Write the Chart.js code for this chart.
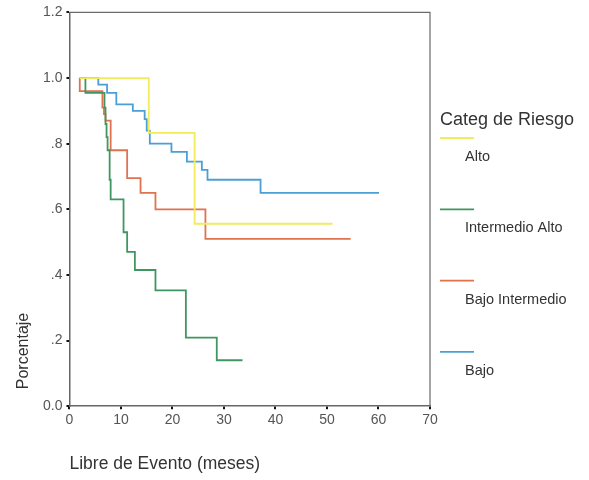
<!DOCTYPE html>
<html>
<head>
<meta charset="utf-8">
<script src="https://cdn.jsdelivr.net/npm/chart.js@4"></script>
<style>
  body { margin: 0; background: #fff; }
  #wrap { width: 589px; height: 480px; }
</style>
</head>
<body>
<div id="wrap"><canvas id="km" width="589" height="480"></canvas></div>
<script>
// Curvas de supervivencia libre de evento por categoria de riesgo
const categorias = ['Alto', 'Intermedio Alto', 'Bajo Intermedio', 'Bajo'];
const colores = ['#f0ec5c', '#3f9660', '#e0724f', '#4a9fd6'];

const tAlto = [2, 15.4, 24.3, 51.1];
const sAlto = [1.0, 0.833, 0.556, 0.556];

const tIntAlto = [2, 3.1, 6.8, 7.0, 7.2, 7.4, 7.8, 8.0, 10.5, 11.2, 12.7, 16.7, 22.6, 28.6, 33.6];
const sIntAlto = [1.0, 0.955, 0.91, 0.86, 0.82, 0.78, 0.69, 0.63, 0.53, 0.47, 0.415, 0.353, 0.209, 0.14, 0.14];

const tBajoInt = [2, 2, 6.4, 6.7, 7.0, 8.0, 11.2, 13.8, 16.7, 26.4, 54.6];
const sBajoInt = [1.0, 0.96, 0.91, 0.89, 0.87, 0.78, 0.695, 0.65, 0.60, 0.51, 0.51];

const tBajo = [2, 5.6, 7.3, 9.1, 12.3, 14.6, 15.0, 15.6, 19.8, 22.8, 25.7, 26.8, 37.1, 60.1];
const sBajo = [1.0, 0.98, 0.955, 0.92, 0.90, 0.875, 0.84, 0.80, 0.775, 0.745, 0.72, 0.69, 0.65, 0.65];

const xTicks = [0, 10, 20, 30, 40, 50, 60, 70];
const yTickLabels = ['0.0', '.2', '.4', '.6', '.8', '1.0', '1.2'];

function puntos(t, s) {
    return t.map((x, i) => ({ x: x, y: s[i] }));
}

const series = [[tAlto, sAlto], [tIntAlto, sIntAlto], [tBajoInt, sBajoInt], [tBajo, sBajo]];

const datasets = series.map((par, i) => ({
    label: categorias[i],
    data: puntos(par[0], par[1]),
    borderColor: colores[i],
    backgroundColor: colores[i],
    borderWidth: 1.8,
    pointRadius: 0,
    showLine: true,
    stepped: 'before',
    fill: false
}));

const familia = '"Liberation Sans", Arial, sans-serif';

// marco superior y derecho del area de trazado
const marco = {
    id: 'marco',
    beforeDatasetsDraw(chart) {
        const { ctx, chartArea: a } = chart;
        ctx.save();
        ctx.strokeStyle = '#6a6a6a';
        ctx.lineWidth = 1.2;
        ctx.beginPath();
        ctx.moveTo(a.left, a.top);
        ctx.lineTo(a.right, a.top);
        ctx.lineTo(a.right, a.bottom);
        ctx.stroke();
        ctx.restore();
    }
};

// titulo del eje y, pegado a la parte baja del eje
const tituloY = {
    id: 'tituloY',
    afterDraw(chart) {
        const ctx = chart.ctx;
        ctx.save();
        ctx.translate(24, 351);
        ctx.rotate(-Math.PI / 2);
        ctx.fillStyle = '#333';
        ctx.font = '16px ' + familia;
        ctx.textAlign = 'center';
        ctx.textBaseline = 'middle';
        ctx.fillText('Porcentaje', 0, 0);
        ctx.restore();
    }
};

// leyenda a la derecha: titulo, muestra de linea y etiqueta debajo
const leyenda = {
    id: 'leyenda',
    afterDraw(chart) {
        const ctx = chart.ctx;
        const x0 = 440;
        ctx.save();
        ctx.fillStyle = '#333';
        ctx.textBaseline = 'middle';
        ctx.font = '18px ' + familia;
        ctx.fillText('Categ de Riesgo', x0, 120);
        ctx.font = '14.5px ' + familia;
        chart.data.datasets.forEach((ds, i) => {
            const y = 138 + i * 71.3;
            ctx.strokeStyle = ds.borderColor;
            ctx.lineWidth = 1.8;
            ctx.beginPath();
            ctx.moveTo(x0, y);
            ctx.lineTo(x0 + 34, y);
            ctx.stroke();
            ctx.fillStyle = '#333';
            ctx.fillText(ds.label, x0 + 25, y + 19);
        });
        ctx.restore();
    }
};

const fuente = { family: familia, size: 14 };

const config = {
    type: 'scatter',
    data: { datasets: datasets },
    options: {
        responsive: false,
        animation: false,
        layout: { padding: { left: 39, top: 9, right: 159, bottom: 5 } },
        plugins: {
            legend: { display: false },
            tooltip: { enabled: false }
        },
        scales: {
            x: {
                type: 'linear',
                min: 0,
                max: 70,
                afterBuildTicks(scale) {
                    scale.ticks = xTicks.map(v => ({ value: v }));
                },
                ticks: { color: '#555', font: fuente, padding: 3 },
                grid: { drawOnChartArea: false, drawTicks: true, tickLength: 3, color: '#111', lineWidth: 2 },
                border: { color: '#666', width: 1.5 },
                title: {
                    display: true,
                    text: 'Libre de Evento (meses)',
                    align: 'start',
                    color: '#333',
                    font: { family: familia, size: 17.5 },
                    padding: { top: 22, bottom: 0 }
                }
            },
            y: {
                min: 0,
                max: 1.2,
                ticks: {
                    stepSize: 0.2,
                    color: '#555',
                    font: fuente,
                    padding: 4,
                    callback: (v, i) => yTickLabels[i]
                },
                grid: { drawOnChartArea: false, drawTicks: true, tickLength: 3, color: '#111', lineWidth: 2 },
                border: { color: '#666', width: 1.5 }
            }
        }
    },
    plugins: [marco, tituloY, leyenda]
};

const chart = new Chart(document.getElementById('km'), config);
</script>
</body>
</html>
